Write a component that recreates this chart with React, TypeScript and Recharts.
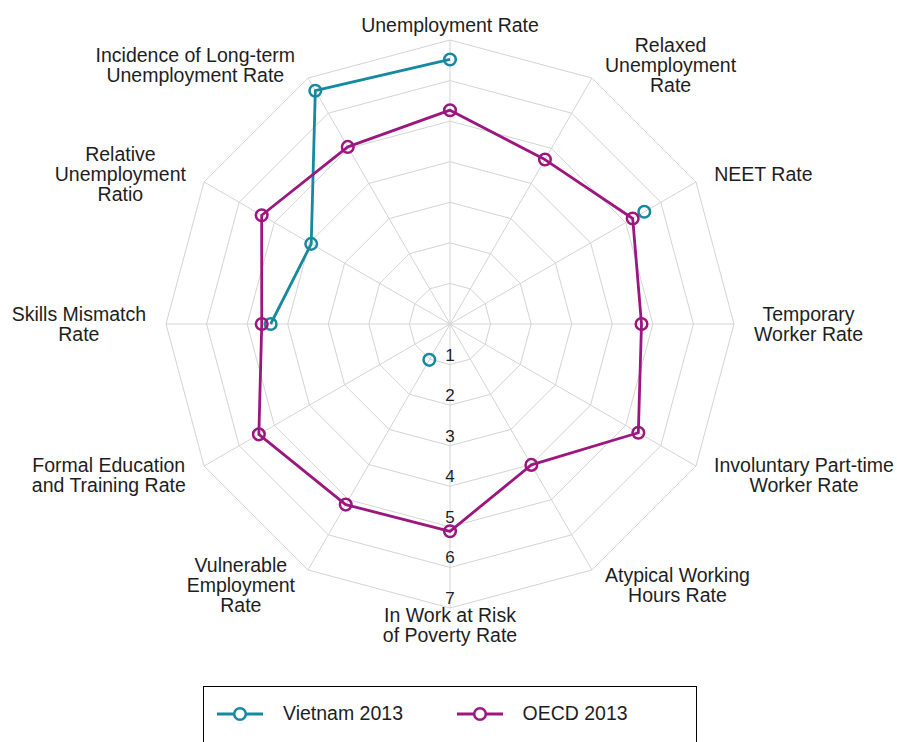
import React from "react";
import {
  RadarChart, Radar, PolarGrid, PolarAngleAxis, PolarRadiusAxis,
} from "recharts";

// categories, clockwise from the top
const CATEGORIES = [
  "Unemployment Rate",
  "Relaxed\nUnemployment\nRate",
  "NEET Rate",
  "Temporary\nWorker Rate",
  "Involuntary Part-time\nWorker Rate",
  "Atypical Working\nHours Rate",
  "In Work at Risk\nof Poverty Rate",
  "Vulnerable\nEmployment\nRate",
  "Formal Education\nand Training Rate",
  "Skills Mismatch\nRate",
  "Relative\nUnemployment\nRatio",
  "Incidence of Long-term\nUnemployment Rate",
];

const VIETNAM_2013 = [6.52, null, 5.53, null, null, null, null, 1.02, null, 4.42, 3.95, 6.64];
const OECD_2013 = [5.27, 4.68, 5.2, 4.72, 5.36, 4.01, 5.11, 5.14, 5.44, 4.64, 5.36, 5.04];

const RADIUS_MAX = 7;

const SERIES = [
  { key: "vietnam", name: "Vietnam 2013", color: "#15899F", values: VIETNAM_2013 },
  { key: "oecd", name: "OECD 2013", color: "#9C167F", values: OECD_2013 },
];

// Vietnam's line breaks at its gaps; start the data at "Skills Mismatch"
// (left side) so the Long-term -> Unemployment segment stays joined.
const START = 9;
const data = CATEGORIES.map((_, i) => {
  const j = (i + START) % CATEGORIES.length;
  const row: any = { category: CATEGORIES[j] };
  SERIES.forEach((s) => (row[s.key] = s.values[j]));
  return row;
});

const CX = 450;
const CY = 324;
const R = 284;
const FONT = "'Liberation Sans', Arial, sans-serif";
const LABEL_SIZE = 19.5;
const TEXT = "#1e1e1e";

let ctx: CanvasRenderingContext2D | null = null;
const measure = (s: string) => {
  if (!ctx) ctx = document.createElement("canvas").getContext("2d");
  if (!ctx) return s.length * 9;
  ctx.font = `${LABEL_SIZE}px ${FONT}`;
  return ctx.measureText(s).width;
};

function AngleTick(props: any) {
  const { payload } = props;
  const rad = (payload.coordinate * Math.PI) / 180;
  const c = Math.cos(rad);
  const s = Math.sin(rad);
  const vx = CX + R * c;
  const vy = CY - R * s;
  const lines = String(payload.value).split("\n");
  const w = Math.max(...lines.map(measure));
  const off = 6 + 14 * Math.abs(c);
  let x = vx;
  if (c > 0.1) x = vx + off + w / 2;
  else if (c < -0.1) x = vx - off - w / 2;
  const yc = vy - 15 * s + (s < -0.1 ? 2 : 0);
  const lh = 20;
  const y0 = yc - ((lines.length - 1) * lh) / 2;
  return (
    <text textAnchor="middle" fill={TEXT} fontSize={LABEL_SIZE} fontFamily={FONT}>
      {lines.map((l, i) => (
        <tspan key={i} x={x} y={y0 + i * lh} dy="0.35em">{l}</tspan>
      ))}
    </text>
  );
}

function RadiusTick(props: any) {
  const { x, y, payload } = props;
  if (payload.value === 0) return null;
  return (
    <text x={x} y={y - 10} dy="0.35em" textAnchor="middle" fill={TEXT} fontSize={17} fontFamily={FONT}>
      {payload.value}
    </text>
  );
}

// polygon that leaves gaps where a value is missing
function makeShape(key: string) {
  return (props: any) => {
    const { points, stroke, strokeWidth } = props;
    let d = "";
    let prevOk = false;
    let allOk = true;
    points.forEach((p: any, i: number) => {
      const ok = data[i][key] != null;
      if (!ok) allOk = false;
      if (ok) d += `${prevOk ? "L" : "M"}${p.x},${p.y}`;
      prevOk = ok;
    });
    if (allOk) d += "Z";
    return <path d={d} fill="none" stroke={stroke} strokeWidth={strokeWidth} strokeLinejoin="round" />;
  };
}

function makeDot(key: string, color: string) {
  return (props: any) => {
    const { cx, cy, index } = props;
    if (data[index] == null || data[index][key] == null) return <g key={index} />;
    return <circle key={index} cx={cx} cy={cy} r={5.8} fill="none" stroke={color} strokeWidth={2.5} />;
  };
}

function LegendBox() {
  return (
    <div
      style={{
        position: "absolute", left: 203, top: 686, width: 494, height: 56,
        border: "1px solid #000", borderBottom: "none", boxSizing: "border-box",
        display: "flex", alignItems: "center", paddingLeft: 13, paddingBottom: 2,
        fontFamily: FONT, fontSize: LABEL_SIZE, color: TEXT,
      }}
    >
      {SERIES.map((s) => (
        <div key={s.key} style={{ display: "flex", alignItems: "center", width: 241 }}>
          <svg width={46} height={20} style={{ marginRight: 20 }}>
            <line x1={0} y1={10} x2={46} y2={10} stroke={s.color} strokeWidth={2.8} />
            <circle cx={23} cy={10} r={5.8} fill="#fff" stroke={s.color} strokeWidth={2.5} />
          </svg>
          <span>{s.name}</span>
        </div>
      ))}
    </div>
  );
}

export default function App() {
  return (
    <div style={{ position: "fixed", left: 0, top: 0, width: 897, height: 742, overflow: "hidden", background: "#fff" }}>
      <RadarChart
        width={897}
        height={680}
        data={data}
        cx={CX}
        cy={CY}
        outerRadius={R}
        startAngle={180}
        endAngle={-180}
        margin={{ top: 0, right: 0, bottom: 0, left: 0 }}
      >
        <PolarGrid gridType="polygon" stroke="#d4d4d4" strokeWidth={1} />
        <PolarAngleAxis dataKey="category" tick={<AngleTick />} tickLine={false} axisLine={false} />
        <PolarRadiusAxis
          angle={-90}
          domain={[0, RADIUS_MAX]}
          tickCount={RADIUS_MAX + 1}
          tick={<RadiusTick />}
          tickLine={false}
          axisLine={false}
        />
        {SERIES.map((s) => (
          <Radar
            key={s.key}
            name={s.name}
            dataKey={s.key}
            stroke={s.color}
            strokeWidth={2.8}
            fill="none"
            fillOpacity={0}
            shape={makeShape(s.key)}
            dot={makeDot(s.key, s.color)}
            isAnimationActive={false}
          />
        ))}
      </RadarChart>
      <LegendBox />
    </div>
  );
}
